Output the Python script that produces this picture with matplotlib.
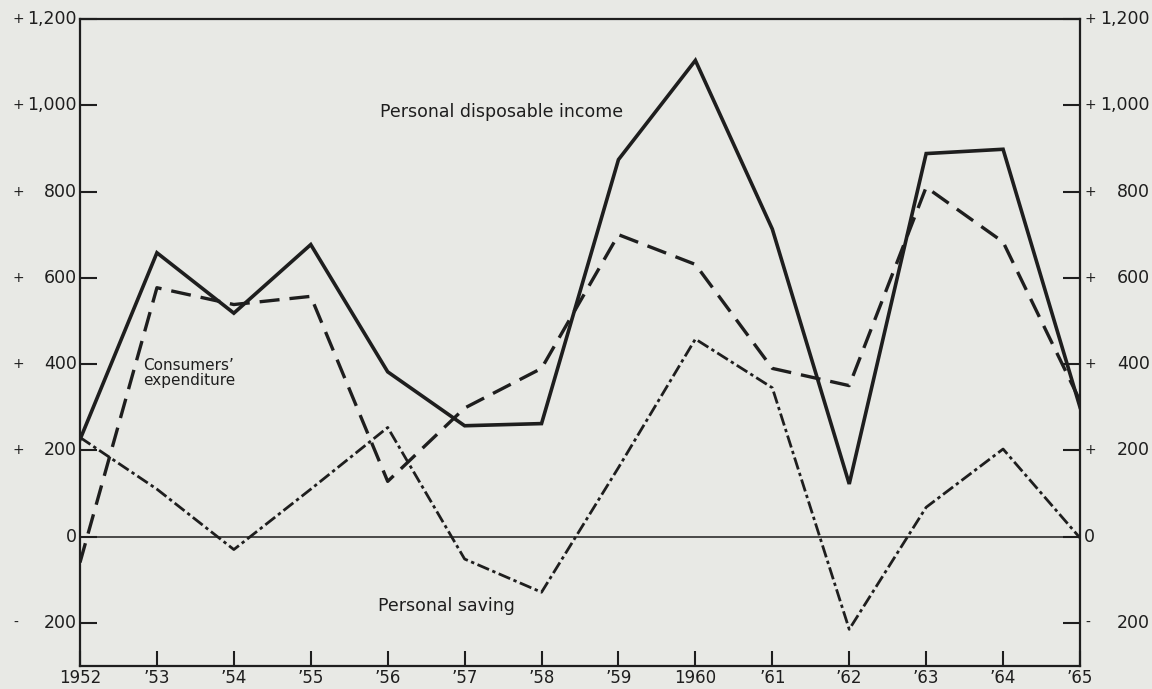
import matplotlib.pyplot as plt
from matplotlib import transforms

plt.rcParams['font.family'] = ['DejaVu Sans']

# values (changes, in £ million)
years = list(range(1952, 1966))
year_labels = ['1952', '’53', '’54', '’55', '’56', '’57', '’58', '’59', '1960',
               '’61', '’62', '’63', '’64', '’65']
income = [225, 658, 518, 677, 382, 257, 262, 874, 1104, 713, 122, 888, 898, 300]
expenditure = [-60, 577, 538, 557, 128, 298, 390, 700, 631, 390, 350, 810, 683, 315]
saving = [230, 110, -30, 110, 253, -52, -129, 160, 458, 345, -215, 68, 203, -3]

y_ticks = [-200, 0, 200, 400, 600, 800, 1000, 1200]
y_numbers = ['200', '0', '200', '400', '600', '800', '1,000', '1,200']
y_signs = ['-', '', '+', '+', '+', '+', '+', '+']

paper = '#e8e9e5'
ink = '#1e1e1e'

fig = plt.figure(figsize=(11.52, 6.89), dpi=100, facecolor=paper)
ax = fig.add_axes([80 / 1152, 1 - 666 / 689, 1000 / 1152, 647 / 689])
ax.set_facecolor(paper)

ax.plot(years, income, color=ink, lw=2.6, solid_joinstyle='miter')
ax.plot(years, expenditure, color=ink, lw=2.4, dashes=(6, 3))
ax.plot(years, saving, color=ink, lw=2.0, dashes=(4.5, 1.3, 1.2, 1.3))
ax.axhline(0, color=ink, lw=1.1)

ax.set_xlim(1952, 1965)
ax.set_ylim(-300, 1200)
for s in ax.spines.values():
    s.set_color(ink)
    s.set_linewidth(1.6)

ax.set_xticks(years)
ax.set_xticklabels(year_labels, fontsize=12, color=ink)
ax.set_yticks(y_ticks)
ax.tick_params(axis='x', direction='in', length=11, width=1.5, pad=2, colors=ink)
ax.tick_params(axis='y', direction='in', length=12, width=1.5,
               left=True, right=True, labelleft=False, labelright=False, colors=ink)

# y labels with the sign set apart, both sides
tr = transforms.blended_transform_factory(fig.transFigure, ax.transData)
for v, num, sg in zip(y_ticks, y_numbers, y_signs):
    fig.text(77 / 1152, v, num, transform=tr, ha='right', va='center', fontsize=12.5, color=ink)
    if sg:
        fig.text(13 / 1152, v, sg, transform=tr, ha='left', va='center', fontsize=10, color=ink)
    if v == 0:
        fig.text(1084 / 1152, v, num, transform=tr, ha='left', va='center', fontsize=12.5, color=ink)
    else:
        fig.text(1150 / 1152, v, num, transform=tr, ha='right', va='center', fontsize=12.5, color=ink)
        fig.text(1085 / 1152, v, sg, transform=tr, ha='left', va='center', fontsize=10, color=ink)

ax.text(1955.9, 985, 'Personal disposable income', fontsize=12.5, color=ink, va='center')
ax.text(1952.82, 380, 'Consumers’\nexpenditure', fontsize=11, color=ink, va='center',
        linespacing=1.0)
ax.text(1955.87, -160, 'Personal saving', fontsize=12.5, color=ink, va='center')

fig.savefig('out.png', dpi=100, facecolor=paper)
